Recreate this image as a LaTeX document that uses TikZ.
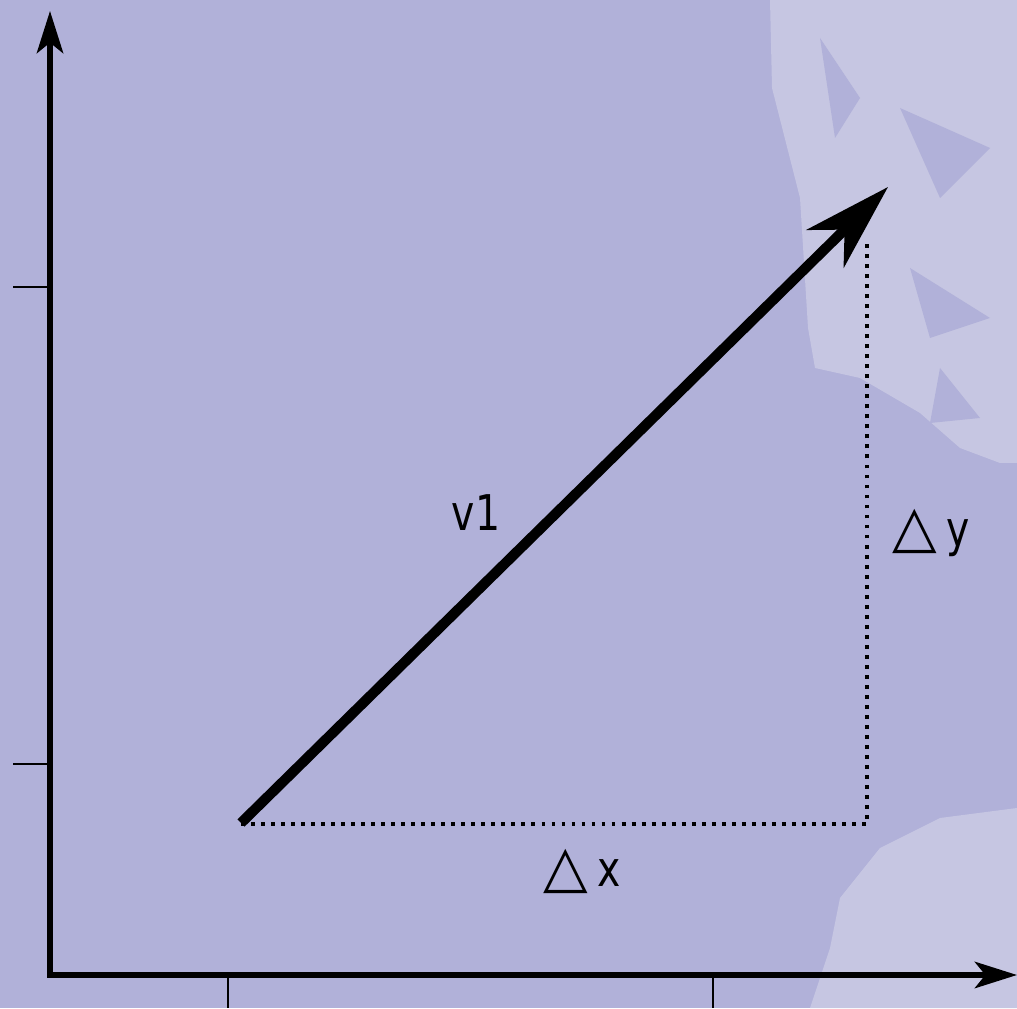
\documentclass[tikz,border=0pt]{standalone}
\usepackage{fontspec}
\setmainfont{DejaVu Sans}
\newfontfamily\labfont[FakeStretch=0.8]{DejaVu Sans}
\newfontfamily\trifont{DejaVu Sans}
\usetikzlibrary{arrows.meta}
\definecolor{bgblue}{RGB}{177,177,217}
\definecolor{bglight}{RGB}{198,198,226}
\newcommand\tri{{\trifont\fontsize{16.5}{18}\selectfont △}\hspace{2.5pt}}

\begin{document}
\begin{tikzpicture}[font=\labfont\fontsize{14}{16}\selectfont,
axis/.style={line width=1.6pt,-{Stealth[length=12pt,width=7.5pt,inset=3pt]}},
tick/.style={line width=0.5pt},
vec/.style={line width=2.9pt,-{Stealth[length=25pt,width=15pt,inset=7.7pt]}},
delta/.style={line width=1.1pt,dash pattern=on 1.1pt off 1.75pt},
lab/.style={inner sep=1pt}]
\useasboundingbox[fill=bgblue] (0,0) rectangle (10.17,10.08);
\fill[bglight] (7.70,10.08) -- (7.72,9.20) -- (8.00,8.10) -- (8.08,6.80) -- (8.15,6.40)
  -- (8.60,6.30) -- (9.20,5.95) -- (9.60,5.60) -- (10.00,5.45) -- (10.17,5.45) -- (10.17,10.08) -- cycle;
\fill[bgblue] (8.20,9.70) -- (8.60,9.10) -- (8.35,8.70) -- cycle;
\fill[bgblue] (9.00,9.00) -- (9.90,8.60) -- (9.40,8.10) -- cycle;
\fill[bgblue] (9.10,7.40) -- (9.90,6.90) -- (9.30,6.70) -- cycle;
\fill[bgblue] (9.40,6.40) -- (9.80,5.90) -- (9.30,5.85) -- cycle;
\fill[bglight] (10.17,2.00) -- (9.40,1.90) -- (8.80,1.60) -- (8.40,1.10) -- (8.30,0.60)
  -- (8.10,0) -- (10.17,0) -- cycle;
\coordinate (O) at (0.50,0.33);
\coordinate (ytop) at (0.50,9.97);
\coordinate (xend) at (10.17,0.33);
\coordinate (start) at (2.41,1.85);
\coordinate (tip) at (8.88,8.21);
\coordinate (corner) at (8.67,1.84);
\coordinate (top) at (8.67,7.70);
\draw[axis] (O)--(ytop);
\draw[axis] ([xshift=-0.8pt]O)--(xend);
\draw[tick] (0.13,7.21)--(0.50,7.21);
\draw[tick] (0.13,2.44)--(0.50,2.44);
\draw[tick] (2.28,0.33)--(2.28,0);
\draw[tick] (7.13,0.33)--(7.13,0);
\draw[delta] (start|-corner)--(corner)--(top);
\draw[vec] (start)--(tip);
\node[lab] (v1) at (4.76,4.95) {v1};
\node[lab] (dy) at (9.31,4.75) {\tri y};
\node[lab] (dx) at (5.82,1.37) {\tri x};
\end{tikzpicture}
\end{document}
